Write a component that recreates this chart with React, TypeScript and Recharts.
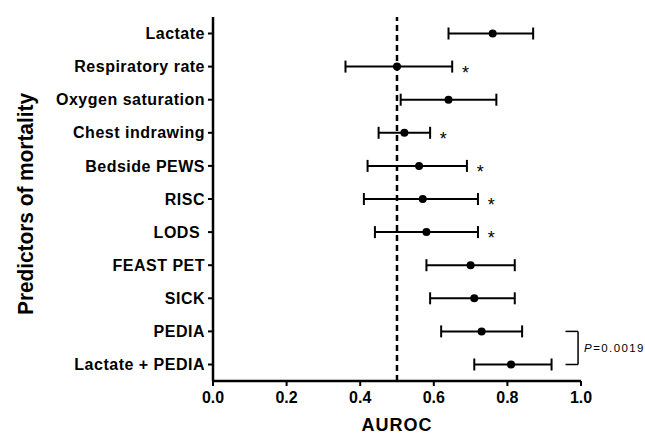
import {
  ComposedChart,
  ErrorBar,
  Label,
  Line,
  ReferenceLine,
  XAxis,
  YAxis,
} from 'recharts';

const predictors = [
  'Lactate',
  'Respiratory rate',
  'Oxygen saturation',
  'Chest indrawing',
  'Bedside PEWS',
  'RISC',
  'LODS\u00a0',
  'FEAST PET',
  'SICK',
  'PEDIA',
  'Lactate + PEDIA',
];
const auroc = [0.76, 0.5, 0.64, 0.52, 0.56, 0.57, 0.58, 0.7, 0.71, 0.73, 0.81];
const ciLow = [0.64, 0.36, 0.51, 0.45, 0.42, 0.41, 0.44, 0.58, 0.59, 0.62, 0.71];
const ciHigh = [0.87, 0.65, 0.77, 0.59, 0.69, 0.72, 0.72, 0.82, 0.82, 0.84, 0.92];
const significant = [false, true, false, true, true, true, true, false, false, false, false];
const xTicks = [0, 0.2, 0.4, 0.6, 0.8, 1.0];

const FONT = '"Liberation Sans", Arial, sans-serif';
const STAR_GAP = 0.036;

const data = predictors.map((name, i) => ({
  name,
  auc: auroc[i],
  err: [auroc[i] - ciLow[i], ciHigh[i] - auroc[i]],
  star: significant[i] ? ciHigh[i] + STAR_GAP : null,
}));

function StarDot(props: any) {
  const { cx, cy, payload, index } = props;
  if (payload?.star == null || cx == null) return <g key={`s${index}`} />;
  return (
    <text key={`s${index}`} x={cx} y={cy + 12} textAnchor="middle" fontSize={18} fill="#000">
      *
    </text>
  );
}

function YTitle(props: any) {
  const vb = props.viewBox ?? { x: 0, y: 17, height: 364 };
  const x = vb.x + 33;
  const y = vb.y + vb.height / 2 + 5;
  return (
    <text
      x={x}
      y={y}
      transform={`rotate(-90 ${x} ${y})`}
      textAnchor="middle"
      fontSize={22}
      fontWeight="bold"
      textLength={222}
      lengthAdjust="spacingAndGlyphs"
      fill="#000"
    >
      Predictors of mortality
    </text>
  );
}

function XTitle(props: any) {
  const vb = props.viewBox ?? { x: 213, y: 381, width: 368, height: 54 };
  return (
    <text
      x={vb.x + vb.width / 2}
      y={vb.y + vb.height - 4}
      textAnchor="middle"
      fontSize={18}
      fontWeight="bold"
      letterSpacing={1}
      fill="#000"
    >
      AUROC
    </text>
  );
}

function PLabel(props: any) {
  const vb = props.viewBox ?? {};
  const x = (vb.x ?? vb.x1 ?? 578) + 6;
  const y = (vb.y ?? Math.min(vb.y1, vb.y2)) + (vb.height ?? Math.abs(vb.y2 - vb.y1)) / 2 + 4;
  return (
    <text x={x} y={y} fontSize={11.5} letterSpacing={1.4} fill="#000">
      <tspan fontStyle="italic">P</tspan>=0.0019
    </text>
  );
}

export default function App() {
  return (
    <div style={{ position: 'absolute', left: 0, top: 0 }}>
      <ComposedChart
        width={645}
        height={435}
        data={data}
        layout="vertical"
        margin={{ top: 17, right: 64, bottom: 0, left: 0 }}
        style={{ fontFamily: FONT }}
      >
        <XAxis
          type="number"
          domain={[0, 1]}
          ticks={xTicks}
          tickFormatter={(v: number) => v.toFixed(1)}
          height={54}
          tickSize={5}
          tickMargin={6}
          axisLine={{ stroke: '#000', strokeWidth: 2.5 }}
          tickLine={{ stroke: '#000', strokeWidth: 2 }}
          tick={{ fill: '#000', fontSize: 16, fontWeight: 'bold' }}
        >
          <Label content={<XTitle />} />
        </XAxis>
        <YAxis
          type="category"
          dataKey="name"
          width={213}
          padding={{ top: 16.5, bottom: 16.5 }}
          tickSize={5}
          tickMargin={3}
          interval={0}
          axisLine={{ stroke: '#000', strokeWidth: 2.5 }}
          tickLine={{ stroke: '#000', strokeWidth: 2 }}
          tick={{ fill: '#000', fontSize: 16, fontWeight: 'bold', letterSpacing: 0.5 }}
        >
          <Label content={<YTitle />} />
        </YAxis>
        <ReferenceLine x={0.5} stroke="#000" strokeWidth={2.5} strokeDasharray="6 4" />
        <Line
          dataKey="auc"
          stroke="none"
          isAnimationActive={false}
          dot={{ r: 4, fill: '#000', stroke: '#000', strokeWidth: 0 }}
          activeDot={false}
        >
          <ErrorBar dataKey="err" direction="x" width={6} stroke="#000" strokeWidth={2} />
        </Line>
        <Line
          dataKey="star"
          stroke="none"
          isAnimationActive={false}
          dot={<StarDot />}
          activeDot={false}
        />
        <ReferenceLine
          segment={[
            { x: 0.958, y: 'PEDIA' },
            { x: 0.992, y: 'PEDIA' },
          ]}
          stroke="#000"
          strokeWidth={1.5}
        />
        <ReferenceLine
          segment={[
            { x: 0.958, y: 'Lactate + PEDIA' },
            { x: 0.992, y: 'Lactate + PEDIA' },
          ]}
          stroke="#000"
          strokeWidth={1.5}
        />
        <ReferenceLine
          segment={[
            { x: 0.992, y: 'PEDIA' },
            { x: 0.992, y: 'Lactate + PEDIA' },
          ]}
          stroke="#000"
          strokeWidth={1.5}
          label={<PLabel />}
        />
      </ComposedChart>
    </div>
  );
}
